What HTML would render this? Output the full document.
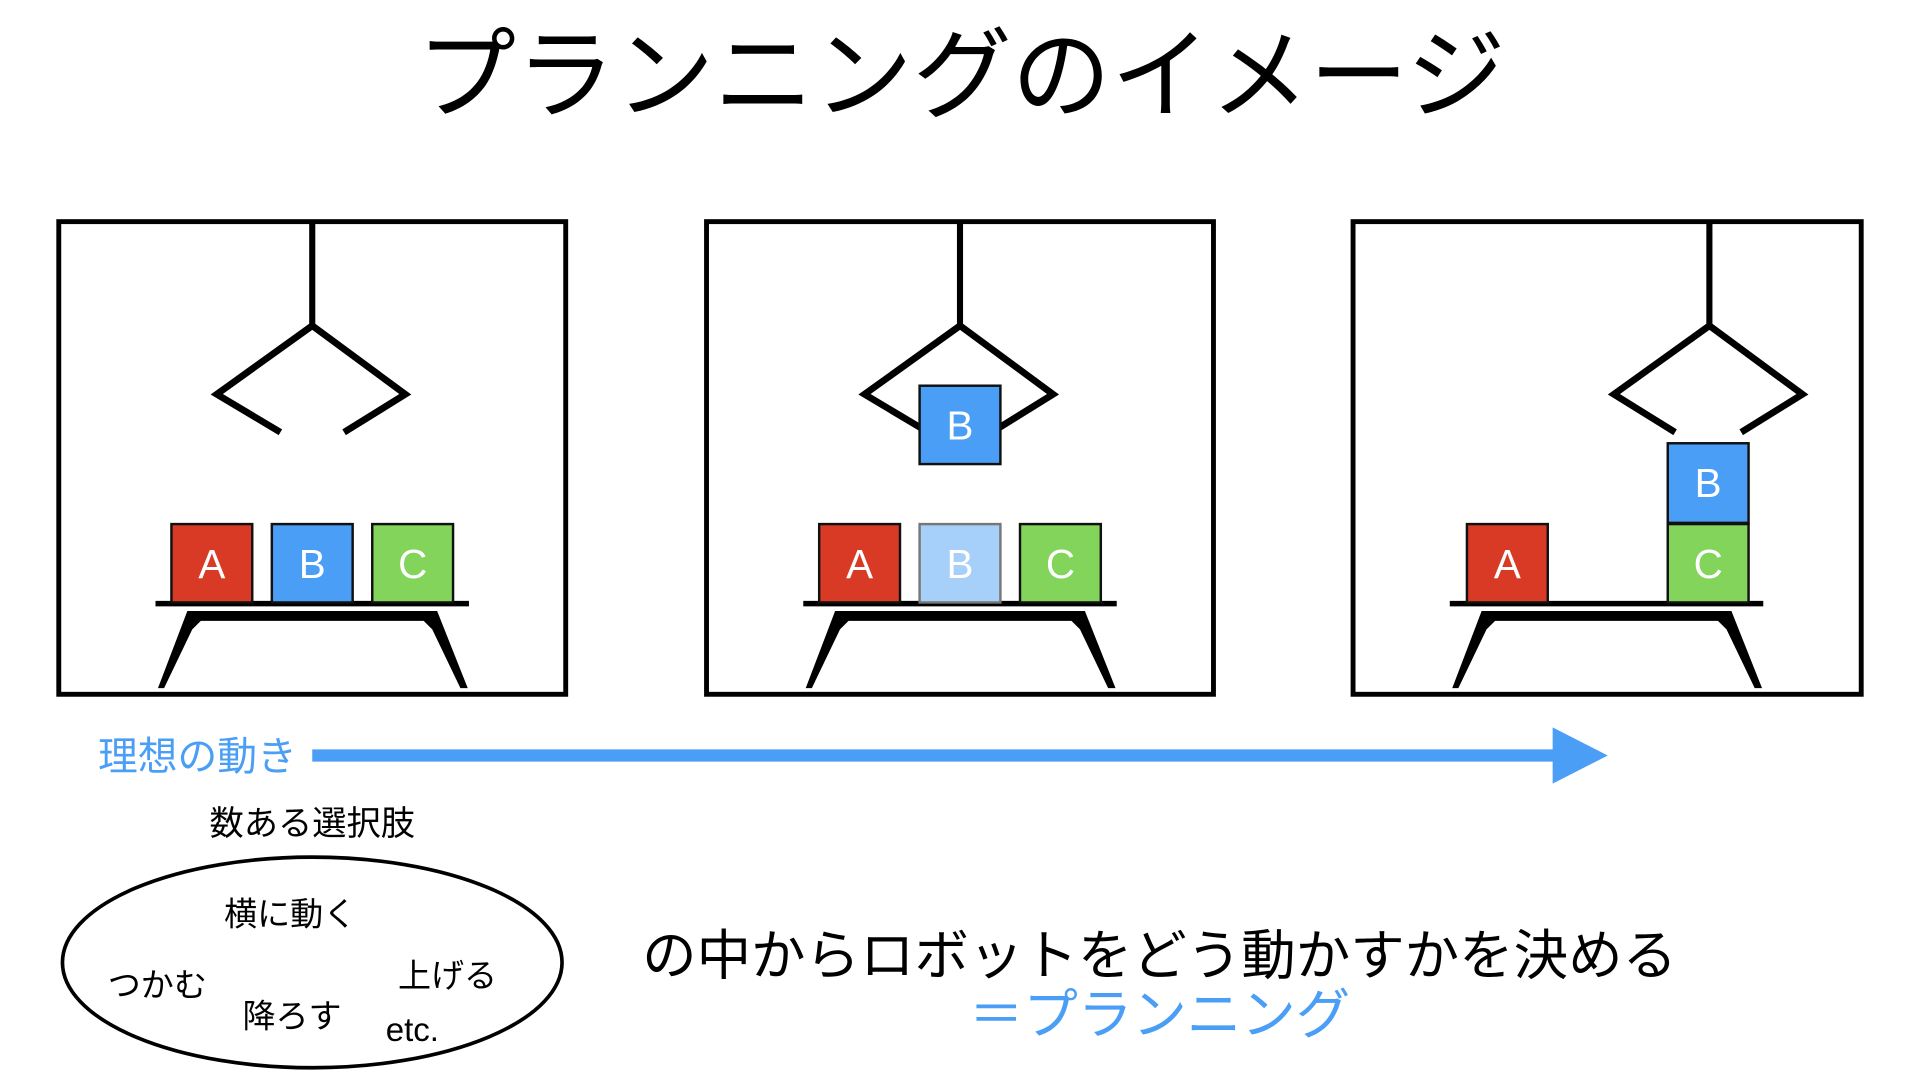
<!DOCTYPE html>
<html><head><meta charset="utf-8"><style>
html,body{margin:0;padding:0;background:#fff;width:1920px;height:1080px;overflow:hidden}
svg{display:block}
text{font-family:"Liberation Sans","Noto Sans CJK JP",sans-serif}
</style></head><body>
<svg width="1920" height="1080" viewBox="0 0 1568 882" xmlns="http://www.w3.org/2000/svg">
<defs>
<g id="table">
<line x1="0" y1="493" x2="256" y2="493" stroke="#000" stroke-width="4.5"/>
<polygon points="26,499 230,499 255,562 249,562 226,514 219,507 37,507 30,514 7,562 2,562" fill="#000"/>
</g>
</defs>
<text x="785" y="90" font-size="81" text-anchor="middle" fill="#000">プランニングのイメージ</text>

<!-- panel 1 -->
<rect x="48" y="181" width="414" height="386" fill="none" stroke="#000" stroke-width="4"/>
<line x1="255" y1="181" x2="255" y2="268" stroke="#000" stroke-width="5"/>
<polyline points="229,353 177,322 255,266 331,322 281,353" fill="none" stroke="#000" stroke-width="5.5"/>
<use href="#table" x="127"/>
<rect x="140" y="428" width="66" height="64" fill="#d93a26" stroke="#111" stroke-width="2"/>
<rect x="222" y="428" width="66" height="64" fill="#4a9ef5" stroke="#111" stroke-width="2"/>
<rect x="304" y="428" width="66" height="64" fill="#83d45a" stroke="#111" stroke-width="2"/>
<g fill="#fff" font-size="33" text-anchor="middle">
<text x="173" y="472">A</text><text x="255" y="472">B</text><text x="337" y="472">C</text></g>

<!-- panel 2 -->
<rect x="577" y="181" width="414" height="386" fill="none" stroke="#000" stroke-width="4"/>
<line x1="784" y1="181" x2="784" y2="268" stroke="#000" stroke-width="5"/>
<polyline points="758,353 706,322 784,266 860,322 810,353" fill="none" stroke="#000" stroke-width="5.5"/>
<rect x="751" y="315" width="66" height="64" fill="#4a9ef5" stroke="#111" stroke-width="2"/>
<use href="#table" x="656"/>
<rect x="669" y="428" width="66" height="64" fill="#d93a26" stroke="#111" stroke-width="2"/>
<rect x="751" y="428" width="66" height="64" fill="#a6cff9" stroke="#777" stroke-width="2"/>
<rect x="833" y="428" width="66" height="64" fill="#83d45a" stroke="#111" stroke-width="2"/>
<g fill="#fff" font-size="33" text-anchor="middle">
<text x="784" y="359">B</text>
<text x="702" y="472">A</text><text x="784" y="472">B</text><text x="866" y="472">C</text></g>

<!-- panel 3 -->
<rect x="1105" y="181" width="415" height="386" fill="none" stroke="#000" stroke-width="4"/>
<line x1="1396" y1="181" x2="1396" y2="268" stroke="#000" stroke-width="5"/>
<polyline points="1368,353 1318,322 1396,266 1472,322 1422,353" fill="none" stroke="#000" stroke-width="5.5"/>
<use href="#table" x="1184"/>
<rect x="1198" y="428" width="66" height="64" fill="#d93a26" stroke="#111" stroke-width="2"/>
<rect x="1362" y="428" width="66" height="64" fill="#83d45a" stroke="#111" stroke-width="2"/>
<rect x="1362" y="362" width="66" height="65" fill="#4a9ef5" stroke="#111" stroke-width="2"/>
<g fill="#fff" font-size="33" text-anchor="middle">
<text x="1231" y="472">A</text><text x="1395" y="472">C</text><text x="1395" y="406">B</text></g>

<!-- arrow -->
<text x="80" y="629" font-size="32.5" fill="#4a9ef5">理想の動き</text>
<line x1="255" y1="617" x2="1272" y2="617" stroke="#4a9ef5" stroke-width="10"/>
<polygon points="1268,594 1313,617 1268,640" fill="#4a9ef5"/>

<text x="255" y="682" font-size="28" text-anchor="middle" fill="#000">数ある選択肢</text>
<ellipse cx="255" cy="786" rx="204" ry="86" fill="none" stroke="#000" stroke-width="3"/>
<g font-size="27" fill="#000">
<text x="183" y="756">横に動く</text>
<text x="88" y="814">つかむ</text>
<text x="325" y="806">上げる</text>
<text x="198" y="839">降ろす</text>
<text x="315" y="850">etc.</text>
</g>
<text x="947" y="796" font-size="44.5" text-anchor="middle" fill="#000">の中からロボットをどう動かすかを決める</text>
<text x="947" y="844" font-size="44.5" text-anchor="middle" fill="#4a9ef5">＝プランニング</text>
</svg>
</body></html>
